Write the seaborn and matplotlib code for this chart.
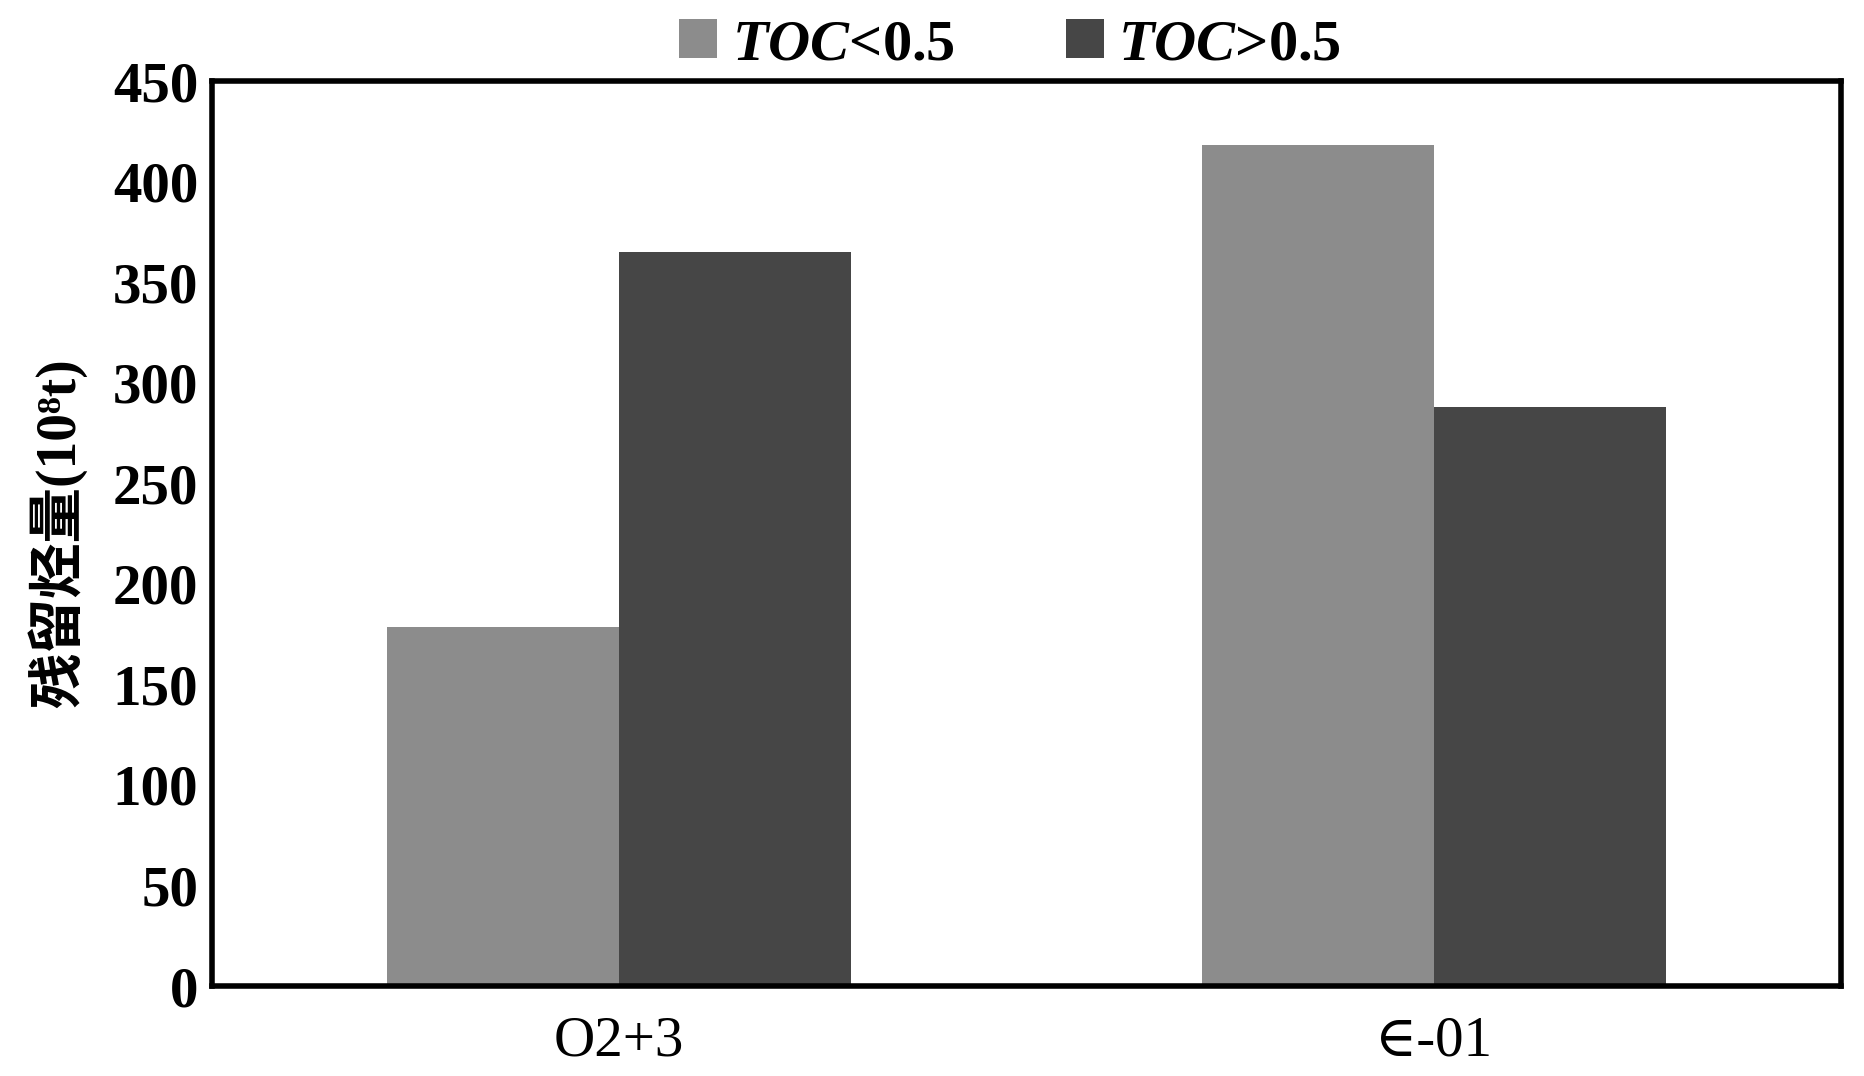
import pandas as pd
import numpy as np
import matplotlib
matplotlib.use('Agg')
import matplotlib.pyplot as plt
import seaborn as sb

# Residual hydrocarbon amount per stratum, split by TOC class
strata = ['O2+3', '∈-01']
toc_low = [178.5, 418.0]    # TOC<0.5
toc_high = [365.0, 288.0]   # TOC>0.5
series_names = [r'$\it{TOC}$<0.5', r'$\it{TOC}$>0.5']
y_ticks = [0, 50, 100, 150, 200, 250, 300, 350, 400, 450]

df = pd.DataFrame({
    'stratum': strata * 2,
    'value': toc_low + toc_high,
    'series': [series_names[0]] * len(strata) + [series_names[1]] * len(strata),
})

sb.set_style('white')
plt.rcParams['font.family'] = ['Liberation Serif', 'DejaVu Serif']
plt.rcParams['text.color'] = 'black'
plt.rcParams['axes.labelcolor'] = 'black'
plt.rcParams['xtick.color'] = 'black'
plt.rcParams['ytick.color'] = 'black'
plt.rcParams['mathtext.fontset'] = 'custom'
plt.rcParams['mathtext.rm'] = 'Liberation Serif:bold'
plt.rcParams['mathtext.it'] = 'Liberation Serif:italic:bold'
plt.rcParams['mathtext.bf'] = 'Liberation Serif:bold'

fig = plt.figure(figsize=(18.65, 10.76), dpi=100)
ax = fig.add_axes([0.1137, 0.0836, 0.8734, 0.8411])

sb.barplot(data=df, x='stratum', y='value', hue='series', ax=ax,
           palette=['#8c8c8c', '#464646'], saturation=1, width=0.57,
           gap=0, edgecolor='none', linewidth=0)

ax.set_ylim(0, 450)
ax.set_xlim(-0.5, 1.5)
ax.set_yticks(y_ticks)
ax.set_yticklabels([str(t) for t in y_ticks], fontsize=41, fontweight='bold')
ax.set_xticks(range(len(strata)))
ax.set_xticklabels(strata, fontsize=41)
ax.tick_params(axis='y', direction='in', length=16, width=3, pad=10, color='black')
ax.tick_params(axis='x', length=0, pad=21)
for s in ax.spines.values():
    s.set_linewidth(4)
    s.set_color('black')
    s.set_visible(True)

ax.set_xlabel('')
ax.set_ylabel('残留烃量(10⁸t)', fontsize=40, fontweight='bold',
              family=['Liberation Serif', 'Noto Sans CJK SC'], labelpad=18)

ax.legend(loc='lower center', bbox_to_anchor=(0.49, 0.985), ncol=2, frameon=False,
          handlelength=0.65, handleheight=0.65, handletextpad=0.25,
          columnspacing=1.9, borderaxespad=0, prop={'weight': 'bold', 'size': 42})

fig.savefig('out.png', dpi=100)
